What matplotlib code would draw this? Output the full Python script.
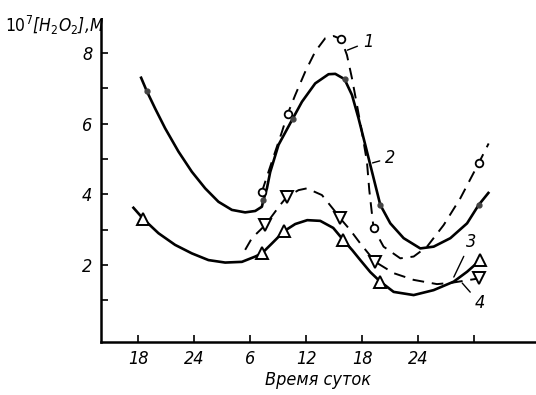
import matplotlib
matplotlib.use('Agg')
import matplotlib.pyplot as plt

# Время в часах (непрерывно: 18 первого дня ... 54 = 6 утра третьего дня)
# Кривая 1 (пунктир, светлые кружки): трасса линии и точки
c1_x = [31.25, 31.96, 32.68, 33.40, 34.00, 34.82, 35.89, 36.96, 38.04, 38.93, 39.75, 40.36,
        40.90, 41.43, 41.96, 42.50, 42.75, 43.21, 44.28, 46.07, 47.50, 48.93, 50.71, 52.50,
        54.46, 55.53]
c1_y = [4.07, 4.64, 5.21, 5.77, 6.27, 6.81, 7.47, 8.04, 8.42, 8.48, 8.39, 7.94,
        7.28, 6.53, 5.77, 4.92, 4.12, 3.04, 2.52, 2.19, 2.24, 2.52, 3.13, 3.89,
        4.88, 5.44]
p1_x = [31.25, 34.00, 39.75, 43.21, 54.46]
p1_y = [4.07, 6.27, 8.39, 3.04, 4.88]

# Кривая 2 (сплошная, мелкие точки)
c2_x = [18.32, 18.93, 19.82, 20.89, 22.32, 23.75, 25.18, 26.60, 28.04, 29.46, 30.54, 31.25,
        31.42, 31.79, 32.14, 33.03, 34.53, 35.54, 36.96, 38.39, 39.11, 40.10, 40.90, 41.60,
        42.32, 43.04, 43.93, 45.00, 46.43, 48.21, 49.64, 51.43, 53.22, 54.46, 55.50]
c2_y = [7.30, 6.92, 6.43, 5.87, 5.21, 4.64, 4.17, 3.79, 3.56, 3.49, 3.53, 3.65,
        3.84, 4.17, 4.63, 5.40, 6.13, 6.62, 7.14, 7.40, 7.41, 7.26, 6.81, 6.15,
        5.40, 4.64, 3.70, 3.18, 2.76, 2.47, 2.52, 2.76, 3.18, 3.70, 4.04]
p2_x = [18.93, 31.42, 34.53, 40.10, 43.93, 54.46]
p2_y = [6.92, 3.84, 6.13, 7.26, 3.70, 3.70]

# Кривая 3 (сплошная, треугольники вершиной вверх)
c3_x = [17.50, 18.57, 20.18, 21.96, 23.75, 25.53, 27.32, 29.11, 30.54, 31.25, 32.36, 33.64,
        34.82, 36.11, 37.50, 38.89, 39.96, 40.93, 41.79, 42.86, 43.93, 45.36, 47.50, 49.64,
        51.79, 53.22, 54.64]
c3_y = [3.62, 3.30, 2.90, 2.57, 2.33, 2.14, 2.07, 2.09, 2.24, 2.33, 2.62, 2.96,
        3.16, 3.27, 3.25, 3.05, 2.71, 2.42, 2.14, 1.80, 1.53, 1.24, 1.15, 1.29,
        1.53, 1.81, 2.14]
p3_x = [18.57, 31.25, 33.64, 39.96, 43.93, 54.64]
p3_y = [3.30, 2.33, 2.96, 2.71, 1.53, 2.14]

# Кривая 4 (пунктир, треугольники вершиной вниз)
c4_x = [29.46, 30.18, 31.61, 33.21, 33.93, 35.18, 36.07, 37.68, 39.11, 39.64, 40.71, 41.79,
        43.39, 45.36, 47.50, 50.00, 51.61, 54.46]
c4_y = [2.43, 2.76, 3.13, 3.70, 3.93, 4.12, 4.17, 3.98, 3.51, 3.32, 2.99, 2.61,
        2.09, 1.77, 1.58, 1.46, 1.50, 1.62]
p4_x = [31.61, 33.93, 39.64, 43.39, 54.46]
p4_y = [3.13, 3.93, 3.32, 2.09, 1.62]

x_ticks = [18, 24, 30, 36, 42, 48, 54]
x_labels = ['18', '24', '6', '12', '18', '24', '']
y_ticks = [2, 4, 6, 8]

plt.rcParams['font.family'] = ['DejaVu Sans']
plt.rcParams['font.stretch'] = 'condensed'

fig = plt.figure(figsize=(5.36, 3.95), dpi=100)
ax = fig.add_axes([0.188, 0.134, 0.812, 0.815])

k = 'black'
ax.plot(c1_x, c1_y, color=k, lw=1.4, dashes=(6, 4))
ax.plot(c2_x, c2_y, color=k, lw=1.9)
ax.plot(c3_x, c3_y, color=k, lw=1.9)
ax.plot(c4_x, c4_y, color=k, lw=1.4, dashes=(6, 4))

ax.plot(p1_x, p1_y, 'o', ms=5.5, mfc='white', mec=k, mew=1.3, ls='none')
ax.plot(p2_x, p2_y, 'o', ms=3.5, color='#444444', ls='none')
ax.plot(p3_x, p3_y, '^', ms=9, mfc='white', mec=k, mew=1.4, ls='none')
ax.plot(p4_x, p4_y, 'v', ms=9, mfc='white', mec=k, mew=1.4, ls='none')

# подписи кривых с выносными линиями
labels = [('1', 40.4, 8.08, 42.6, 8.31),
          ('2', 43.1, 4.89, 45.0, 5.03),
          ('3', 51.8, 1.66, 53.6, 2.65),
          ('4', 52.7, 1.49, 54.6, 0.92)]
for t, xp, yp, xt, yt in labels:
    ax.annotate(t, xy=(xp, yp), xytext=(xt, yt), fontsize=13, style='italic',
                ha='center', va='center',
                arrowprops=dict(arrowstyle='-', color=k, lw=1.0, shrinkA=2, shrinkB=0))

ax.set_xlim(14.0, 60.6)
ax.set_ylim(-0.18, 8.93)
ax.set_xticks(x_ticks)
ax.set_xticklabels(x_labels, fontsize=13, style='italic')
ax.set_yticks(y_ticks)
ax.set_yticks([1, 3, 5, 7], minor=True)
ax.set_yticklabels([str(v) for v in y_ticks], fontsize=13, style='italic')
ax.tick_params(direction='in', length=5, width=1.2, pad=6)
ax.tick_params(which='minor', direction='in', length=5, width=1.2)
ax.spines['top'].set_visible(False)
ax.spines['right'].set_visible(False)
ax.spines['left'].set_linewidth(1.8)
ax.spines['bottom'].set_linewidth(1.8)

ax.set_xlabel('Время суток', fontsize=13, style='italic', labelpad=2)
fig.text(0.01, 0.935, r'$10^7$[H$_2$O$_2$],M', fontsize=12.5, style='italic',
         ha='left', va='center')

fig.savefig('out.png', dpi=100)
